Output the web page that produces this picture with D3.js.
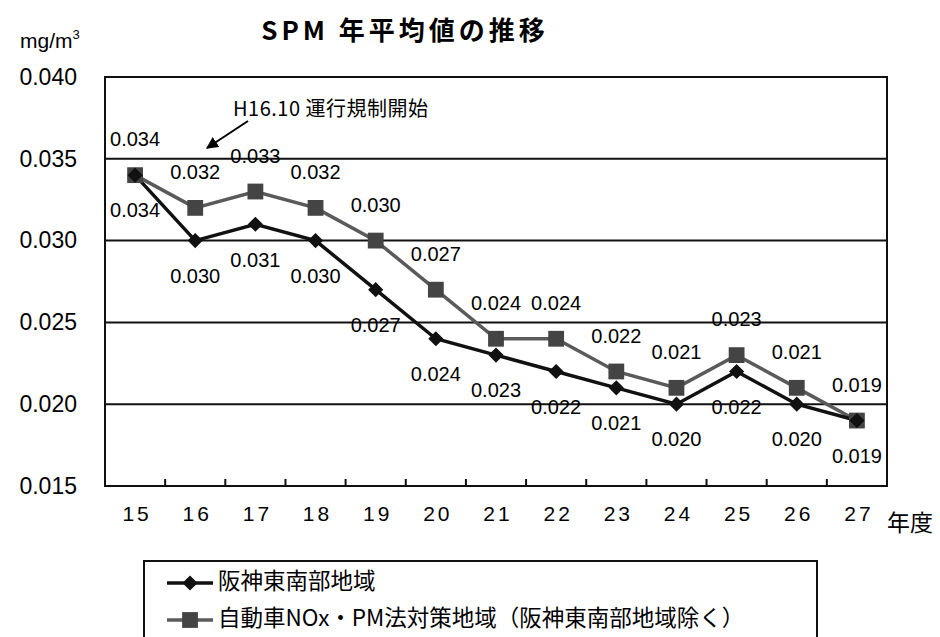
<!DOCTYPE html>
<head>
    <meta charset="utf-8">
</head>

<style type="text/css">

    body {
        margin: 0;
        background: #fff;
    }

    svg {
        display: block;
        font-family: "Liberation Sans", "Noto Sans CJK JP", sans-serif;
    }

    .jp {
        font-family: "Noto Sans CJK JP", sans-serif;
    }

    .grid line {
        stroke: #111;
        stroke-width: 2;
    }

    .frame {
        fill: none;
        stroke: #111;
        stroke-width: 2;
    }

    path.domain {
        display: none;
    }

    .yaxis text {
        font-size: 23px;
        fill: #000;
    }

    .xaxis text {
        font-size: 21px;
        letter-spacing: 3px;
        fill: #000;
    }

    .val-label {
        font-size: 20px;
        fill: #000;
    }

</style>

<body>
</body>

<script src="https://d3js.org/d3.v7.min.js"></script>

<script>

var years = ["15", "16", "17", "18", "19", "20", "21", "22", "23", "24", "25", "26", "27"];

// 阪神東南部地域
var hanshinVals = [0.034, 0.030, 0.031, 0.030, 0.027, 0.024, 0.023, 0.022, 0.021, 0.020, 0.022, 0.020, 0.019];
// 自動車NOx・PM法対策地域（阪神東南部地域除く）
var noxpmVals   = [0.034, 0.032, 0.033, 0.032, 0.030, 0.027, 0.024, 0.024, 0.022, 0.021, 0.023, 0.021, 0.019];

var yTicks = [0.015, 0.020, 0.025, 0.030, 0.035, 0.040];

var seriesNames = ["阪神東南部地域", "自動車NOx・PM法対策地域（阪神東南部地域除く）"];

var W = 940, H = 637;
var plot = {left: 105, top: 77, right: 887, bottom: 486};

var svg = d3.select("body").append("svg")
    .attr("width", W)
    .attr("height", H);

var xscale = d3.scaleBand()
    .domain(years)
    .range([plot.left, plot.right])
    .padding(0);

var yscale = d3.scaleLinear()
    .domain([0.015, 0.040])
    .range([plot.bottom, plot.top]);

var xc = function(i) { return xscale(years[i]) + xscale.bandwidth() / 2; };

// title
svg.append("text")
    .attr("class", "jp")
    .attr("x", 405)
    .attr("y", 40)
    .attr("text-anchor", "middle")
    .style("font-size", "26px")
    .style("font-weight", "bold")
    .style("letter-spacing", "4px")
    .text("SPM 年平均値の推移");

// unit
var unit = svg.append("text")
    .attr("x", 20)
    .attr("y", 48)
    .style("font-size", "21px");
unit.append("tspan").text("mg/m");
unit.append("tspan").attr("dy", -9).style("font-size", "13px").text("3");

// gridlines
svg.append("g")
    .attr("class", "grid")
    .selectAll("line")
    .data(yTicks.slice(1, -1))
    .enter()
    .append("line")
    .attr("x1", plot.left)
    .attr("x2", plot.right)
    .attr("y1", function(d) { return yscale(d); })
    .attr("y2", function(d) { return yscale(d); });

svg.append("rect")
    .attr("class", "frame")
    .attr("x", plot.left)
    .attr("y", plot.top)
    .attr("width", plot.right - plot.left)
    .attr("height", plot.bottom - plot.top);

// y axis labels
var yAxis = d3.axisLeft(yscale)
    .tickValues(yTicks)
    .tickSize(0)
    .tickPadding(0)
    .tickFormat(d3.format(".3f"));

svg.append("g")
    .attr("class", "yaxis")
    .attr("transform", "translate(77,0)")
    .call(yAxis);

// x axis labels
var xAxis = d3.axisBottom(xscale)
    .tickSize(0)
    .tickPadding(20);

svg.append("g")
    .attr("class", "xaxis")
    .attr("transform", "translate(2," + plot.bottom + ")")
    .call(xAxis);

// inner ticks at category boundaries
svg.append("g")
    .selectAll("line")
    .data(years.slice(1))
    .enter()
    .append("line")
    .attr("x1", function(d) { return xscale(d); })
    .attr("x2", function(d) { return xscale(d); })
    .attr("y1", plot.bottom)
    .attr("y2", plot.bottom - 7)
    .attr("stroke", "#111")
    .attr("stroke-width", 2);

svg.append("text")
    .attr("class", "jp")
    .attr("x", 887)
    .attr("y", 531)
    .style("font-size", "23px")
    .text("年度");

// annotation
svg.append("text")
    .attr("class", "jp")
    .attr("x", 233)
    .attr("y", 116)
    .style("font-size", "20px")
    .style("letter-spacing", "0.5px")
    .text("H16.10 運行規制開始");

svg.append("defs").append("marker")
    .attr("id", "arrow")
    .attr("viewBox", "0 0 10 10")
    .attr("refX", 9)
    .attr("refY", 5)
    .attr("markerWidth", 6)
    .attr("markerHeight", 6)
    .attr("markerUnits", "strokeWidth")
    .attr("orient", "auto")
  .append("path")
    .attr("d", "M0,0L10,5L0,10z")
    .attr("fill", "#000");

svg.append("line")
    .attr("x1", 248)
    .attr("y1", 121)
    .attr("x2", 207)
    .attr("y2", 148)
    .attr("stroke", "#000")
    .attr("stroke-width", 2)
    .attr("marker-end", "url(#arrow)");

// lines
var line = d3.line()
    .x(function(d, i) { return xc(i); })
    .y(function(d) { return yscale(d); });

var diamond = d3.symbol().type(d3.symbolSquare).size(115);
var square = d3.symbol().type(d3.symbolSquare).size(250);

svg.append("path")
    .attr("d", line(noxpmVals))
    .attr("fill", "none")
    .attr("stroke", "#5a5a5a")
    .attr("stroke-width", 3.5);

svg.append("path")
    .attr("d", line(hanshinVals))
    .attr("fill", "none")
    .attr("stroke", "#111")
    .attr("stroke-width", 3.5);

svg.append("g").selectAll("path")
    .data(noxpmVals)
    .enter()
    .append("path")
    .attr("d", square)
    .attr("fill", "#444")
    .attr("transform", function(d, i) { return "translate(" + xc(i) + "," + yscale(d) + ")"; });

svg.append("g").selectAll("path")
    .data(hanshinVals)
    .enter()
    .append("path")
    .attr("d", diamond)
    .attr("fill", "#111")
    .attr("transform", function(d, i) { return "translate(" + xc(i) + "," + yscale(d) + ") rotate(45)"; });

// value labels
svg.append("g").selectAll("text")
    .data(noxpmVals)
    .enter()
    .append("text")
    .attr("class", "val-label")
    .attr("x", function(d, i) { return xc(i); })
    .attr("y", function(d) { return yscale(d) - 34; })
    .attr("text-anchor", "middle")
    .attr("dominant-baseline", "middle")
    .text(function(d) { return d3.format(".3f")(d); });

svg.append("g").selectAll("text")
    .data(hanshinVals)
    .enter()
    .append("text")
    .attr("class", "val-label")
    .attr("x", function(d, i) { return xc(i); })
    .attr("y", function(d) { return yscale(d) + 37; })
    .attr("text-anchor", "middle")
    .attr("dominant-baseline", "middle")
    .text(function(d) { return d3.format(".3f")(d); });

// legend
var legend = svg.append("g");

legend.append("rect")
    .attr("x", 144)
    .attr("y", 561)
    .attr("width", 817 - 144)
    .attr("height", 100)
    .attr("fill", "none")
    .attr("stroke", "#111")
    .attr("stroke-width", 2);

var legRows = legend.selectAll(".leg-row")
    .data(seriesNames)
    .enter()
    .append("g")
    .attr("class", "leg-row")
    .attr("transform", function(d, i) { return "translate(0," + (583 + i * 37) + ")"; });

legRows.append("line")
    .attr("x1", 167)
    .attr("x2", 213)
    .attr("stroke", function(d, i) { return i == 0 ? "#111" : "#5a5a5a"; })
    .attr("stroke-width", 3.5);

legRows.append("path")
    .attr("d", function(d, i) { return i == 0 ? diamond() : square(); })
    .attr("fill", function(d, i) { return i == 0 ? "#111" : "#444"; })
    .attr("transform", function(d, i) { return "translate(190,0)" + (i == 0 ? " rotate(45)" : ""); });

legRows.append("text")
    .attr("class", "jp")
    .attr("x", 218)
    .attr("dominant-baseline", "middle")
    .style("font-size", "22.5px")
    .text(function(d) { return d; });

</script>
